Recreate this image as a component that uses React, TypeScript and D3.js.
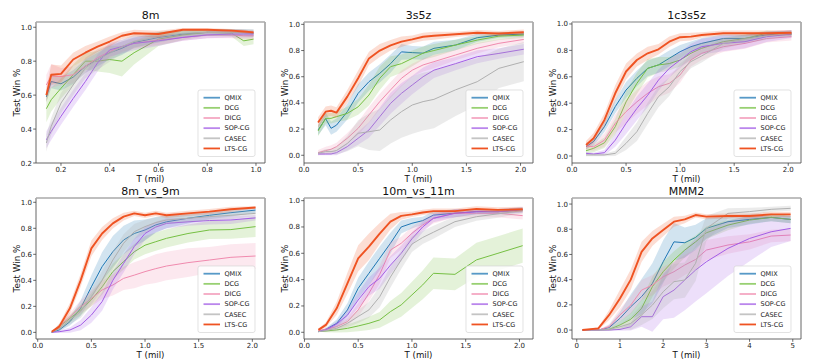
import React from "react";
import * as d3 from "d3";

const SERIES = ["QMIX", "DCG", "DICG", "SOP-CG", "CASEC", "LTS-CG"];
const COLORS = ["#1f77b4", "#76c043", "#f08aae", "#a35de6", "#b0b0b0", "#ef5322"];
const TITLES = ["8m", "3s5z", "1c3s5z", "8m_vs_9m", "10m_vs_11m", "MMM2"];

// ---- 8m ----
const T_8M = [0.14, 0.16, 0.2, 0.25, 0.3, 0.35, 0.4, 0.45, 0.5, 0.6, 0.7, 0.8, 0.9, 0.95, 0.99];
const MEAN_8M = [
  [0.59, 0.68, 0.667, 0.706, 0.77, 0.81, 0.85, 0.876, 0.91, 0.94, 0.96, 0.97, 0.97, 0.968, 0.965],
  [0.52, 0.573, 0.64, 0.72, 0.8, 0.8, 0.81, 0.8, 0.85, 0.93, 0.955, 0.97, 0.965, 0.92, 0.93],
  [0.66, 0.713, 0.71, 0.72, 0.77, 0.82, 0.857, 0.886, 0.905, 0.925, 0.94, 0.955, 0.955, 0.95, 0.95],
  [0.337, 0.386, 0.475, 0.58, 0.68, 0.79, 0.867, 0.886, 0.905, 0.92, 0.94, 0.955, 0.96, 0.96, 0.96],
  [0.318, 0.416, 0.553, 0.66, 0.76, 0.81, 0.847, 0.886, 0.916, 0.945, 0.965, 0.97, 0.97, 0.97, 0.97],
  [0.6, 0.72, 0.725, 0.81, 0.85, 0.886, 0.916, 0.95, 0.965, 0.96, 0.985, 0.985, 0.98, 0.975, 0.97],
];
const BAND_8M = [
  [0.03, 0.04, 0.04, 0.04, 0.04, 0.04, 0.04, 0.04, 0.03, 0.03, 0.02, 0.02, 0.02, 0.02, 0.02],
  [0.08, 0.07, 0.06, 0.06, 0.05, 0.06, 0.08, 0.09, 0.07, 0.04, 0.03, 0.02, 0.02, 0.03, 0.03],
  [0.06, 0.07, 0.05, 0.05, 0.04, 0.04, 0.04, 0.03, 0.03, 0.03, 0.02, 0.02, 0.02, 0.02, 0.02],
  [0.05, 0.05, 0.05, 0.05, 0.05, 0.05, 0.04, 0.04, 0.04, 0.03, 0.02, 0.02, 0.02, 0.02, 0.02],
  [0.05, 0.05, 0.06, 0.06, 0.06, 0.06, 0.05, 0.04, 0.04, 0.03, 0.02, 0.02, 0.02, 0.02, 0.02],
  [0.04, 0.06, 0.05, 0.04, 0.04, 0.03, 0.03, 0.02, 0.02, 0.02, 0.01, 0.01, 0.01, 0.01, 0.01],
];

// ---- 3s5z ----
const T_3S5Z = [0.13, 0.2, 0.25, 0.3, 0.4, 0.5, 0.6, 0.7, 0.8, 0.9, 1.0, 1.1, 1.2, 1.4, 1.6, 1.8, 2.03];
const MEAN_3S5Z = [
  [0.193, 0.28, 0.206, 0.23, 0.333, 0.473, 0.562, 0.626, 0.7, 0.79, 0.784, 0.78, 0.817, 0.842, 0.898, 0.918, 0.926],
  [0.186, 0.282, 0.282, 0.295, 0.32, 0.37, 0.46, 0.588, 0.677, 0.7, 0.74, 0.78, 0.8, 0.842, 0.88, 0.91, 0.918],
  [0.02, 0.036, 0.046, 0.066, 0.13, 0.206, 0.308, 0.41, 0.5, 0.588, 0.65, 0.69, 0.715, 0.766, 0.817, 0.855, 0.885],
  [0.01, 0.01, 0.01, 0.02, 0.066, 0.13, 0.193, 0.295, 0.397, 0.473, 0.537, 0.6, 0.65, 0.7, 0.753, 0.778, 0.81],
  [0.015, 0.028, 0.028, 0.036, 0.09, 0.168, 0.18, 0.193, 0.27, 0.333, 0.384, 0.41, 0.427, 0.5, 0.562, 0.664, 0.715],
  [0.25, 0.333, 0.34, 0.326, 0.448, 0.588, 0.74, 0.8, 0.84, 0.868, 0.885, 0.905, 0.913, 0.924, 0.936, 0.93, 0.94],
];
const BAND_3S5Z = [
  [0.04, 0.05, 0.05, 0.05, 0.06, 0.07, 0.07, 0.07, 0.07, 0.06, 0.05, 0.05, 0.05, 0.04, 0.03, 0.02, 0.02],
  [0.04, 0.04, 0.04, 0.04, 0.05, 0.06, 0.08, 0.09, 0.08, 0.07, 0.06, 0.05, 0.05, 0.04, 0.03, 0.03, 0.02],
  [0.02, 0.03, 0.03, 0.03, 0.04, 0.05, 0.06, 0.06, 0.06, 0.06, 0.05, 0.05, 0.05, 0.04, 0.04, 0.03, 0.03],
  [0.01, 0.01, 0.01, 0.02, 0.03, 0.05, 0.06, 0.07, 0.08, 0.08, 0.07, 0.07, 0.06, 0.05, 0.05, 0.04, 0.04],
  [0.01, 0.02, 0.02, 0.03, 0.06, 0.1, 0.14, 0.16, 0.18, 0.2, 0.22, 0.22, 0.22, 0.2, 0.18, 0.15, 0.15],
  [0.04, 0.04, 0.04, 0.04, 0.05, 0.06, 0.05, 0.05, 0.04, 0.04, 0.03, 0.03, 0.03, 0.02, 0.02, 0.02, 0.02],
];

// ---- 1c3s5z ----
const T_1C3S5Z = [0.13, 0.2, 0.3, 0.4, 0.5, 0.6, 0.7, 0.8, 0.9, 1.0, 1.1, 1.2, 1.4, 1.6, 1.8, 2.03];
const MEAN_1C3S5Z = [
  [0.07, 0.11, 0.222, 0.374, 0.5, 0.588, 0.664, 0.69, 0.74, 0.79, 0.828, 0.853, 0.89, 0.89, 0.917, 0.93],
  [0.04, 0.058, 0.1, 0.222, 0.41, 0.55, 0.664, 0.69, 0.7, 0.727, 0.778, 0.816, 0.866, 0.89, 0.93, 0.92],
  [0.076, 0.07, 0.12, 0.247, 0.336, 0.41, 0.475, 0.525, 0.55, 0.614, 0.727, 0.778, 0.828, 0.853, 0.89, 0.904],
  [0.02, 0.015, 0.025, 0.12, 0.247, 0.36, 0.46, 0.575, 0.664, 0.727, 0.79, 0.828, 0.853, 0.866, 0.904, 0.924],
  [0.008, 0.008, 0.008, 0.02, 0.096, 0.184, 0.323, 0.45, 0.525, 0.64, 0.715, 0.758, 0.853, 0.884, 0.91, 0.93],
  [0.083, 0.134, 0.273, 0.475, 0.64, 0.727, 0.778, 0.808, 0.866, 0.9, 0.904, 0.917, 0.93, 0.93, 0.93, 0.934],
];
const BAND_1C3S5Z = [
  [0.02, 0.03, 0.04, 0.05, 0.06, 0.06, 0.06, 0.06, 0.06, 0.05, 0.04, 0.04, 0.03, 0.03, 0.02, 0.02],
  [0.02, 0.03, 0.04, 0.06, 0.08, 0.08, 0.07, 0.06, 0.05, 0.05, 0.05, 0.04, 0.03, 0.03, 0.02, 0.02],
  [0.03, 0.03, 0.05, 0.07, 0.09, 0.09, 0.09, 0.08, 0.07, 0.06, 0.05, 0.05, 0.04, 0.04, 0.03, 0.03],
  [0.01, 0.01, 0.02, 0.05, 0.08, 0.09, 0.09, 0.08, 0.07, 0.06, 0.06, 0.06, 0.06, 0.05, 0.04, 0.03],
  [0.01, 0.01, 0.01, 0.02, 0.05, 0.07, 0.08, 0.08, 0.07, 0.06, 0.05, 0.05, 0.04, 0.03, 0.03, 0.02],
  [0.03, 0.04, 0.05, 0.06, 0.06, 0.05, 0.05, 0.04, 0.04, 0.03, 0.03, 0.02, 0.02, 0.02, 0.02, 0.02],
];

// ---- 8m_vs_9m ----
const T_8MVS9M = [0.13, 0.2, 0.3, 0.4, 0.5, 0.6, 0.7, 0.8, 0.9, 1.0, 1.1, 1.2, 1.4, 1.6, 1.8, 2.03];
const MEAN_8MVS9M = [
  [0.0, 0.018, 0.082, 0.185, 0.35, 0.505, 0.62, 0.71, 0.76, 0.787, 0.826, 0.85, 0.877, 0.9, 0.92, 0.94],
  [0.0, 0.044, 0.108, 0.172, 0.25, 0.35, 0.467, 0.544, 0.62, 0.67, 0.697, 0.723, 0.76, 0.787, 0.79, 0.813],
  [0.005, 0.044, 0.12, 0.197, 0.26, 0.326, 0.364, 0.415, 0.44, 0.467, 0.49, 0.51, 0.536, 0.556, 0.577, 0.587],
  [0.0, 0.005, 0.018, 0.056, 0.133, 0.236, 0.4, 0.53, 0.66, 0.76, 0.81, 0.838, 0.85, 0.86, 0.864, 0.88],
  [0.0, 0.03, 0.095, 0.16, 0.274, 0.4, 0.556, 0.685, 0.774, 0.813, 0.844, 0.864, 0.877, 0.89, 0.9, 0.915],
  [0.005, 0.044, 0.185, 0.4, 0.646, 0.76, 0.838, 0.89, 0.915, 0.9, 0.915, 0.9, 0.915, 0.928, 0.946, 0.96],
];
const BAND_8MVS9M = [
  [0.0, 0.01, 0.03, 0.06, 0.09, 0.11, 0.12, 0.11, 0.1, 0.08, 0.06, 0.05, 0.04, 0.03, 0.03, 0.02],
  [0.0, 0.02, 0.03, 0.04, 0.05, 0.06, 0.06, 0.06, 0.06, 0.07, 0.07, 0.07, 0.07, 0.07, 0.07, 0.08],
  [0.0, 0.02, 0.03, 0.05, 0.06, 0.07, 0.08, 0.09, 0.1, 0.1, 0.11, 0.11, 0.11, 0.1, 0.1, 0.1],
  [0.0, 0.01, 0.02, 0.04, 0.06, 0.07, 0.07, 0.07, 0.06, 0.05, 0.04, 0.04, 0.03, 0.03, 0.03, 0.02],
  [0.0, 0.02, 0.03, 0.05, 0.06, 0.07, 0.07, 0.07, 0.06, 0.05, 0.04, 0.03, 0.03, 0.03, 0.03, 0.02],
  [0.0, 0.02, 0.04, 0.05, 0.06, 0.05, 0.04, 0.03, 0.02, 0.02, 0.02, 0.02, 0.02, 0.02, 0.02, 0.01],
];

// ---- 10m_vs_11m ----
const T_10MVS11M = [0.13, 0.2, 0.3, 0.4, 0.5, 0.6, 0.7, 0.8, 0.9, 1.0, 1.1, 1.2, 1.4, 1.6, 1.8, 2.03];
const MEAN_10MVS11M = [
  [0.005, 0.023, 0.068, 0.17, 0.334, 0.448, 0.562, 0.676, 0.8, 0.828, 0.848, 0.89, 0.904, 0.916, 0.916, 0.93],
  [0.005, 0.01, 0.018, 0.03, 0.048, 0.068, 0.094, 0.157, 0.208, 0.284, 0.36, 0.448, 0.44, 0.55, 0.6, 0.658],
  [0.013, 0.023, 0.043, 0.081, 0.17, 0.296, 0.44, 0.625, 0.676, 0.752, 0.815, 0.866, 0.904, 0.904, 0.904, 0.886],
  [0.005, 0.018, 0.063, 0.13, 0.245, 0.347, 0.41, 0.51, 0.6, 0.71, 0.8, 0.866, 0.904, 0.916, 0.916, 0.93],
  [0.005, 0.013, 0.03, 0.068, 0.12, 0.17, 0.27, 0.42, 0.55, 0.67, 0.72, 0.76, 0.84, 0.878, 0.9, 0.924],
  [0.018, 0.056, 0.182, 0.372, 0.562, 0.65, 0.75, 0.84, 0.884, 0.896, 0.91, 0.92, 0.92, 0.937, 0.93, 0.934],
];
const BAND_10MVS11M = [
  [0.0, 0.01, 0.03, 0.05, 0.08, 0.09, 0.09, 0.08, 0.05, 0.04, 0.03, 0.03, 0.03, 0.02, 0.02, 0.02],
  [0.0, 0.01, 0.02, 0.03, 0.04, 0.05, 0.06, 0.08, 0.09, 0.1, 0.11, 0.12, 0.12, 0.13, 0.13, 0.13],
  [0.0, 0.01, 0.02, 0.03, 0.05, 0.06, 0.07, 0.06, 0.05, 0.05, 0.04, 0.04, 0.03, 0.03, 0.03, 0.03],
  [0.0, 0.01, 0.02, 0.04, 0.06, 0.07, 0.08, 0.07, 0.06, 0.05, 0.04, 0.03, 0.03, 0.02, 0.02, 0.02],
  [0.0, 0.01, 0.02, 0.03, 0.05, 0.06, 0.08, 0.08, 0.07, 0.06, 0.05, 0.05, 0.04, 0.03, 0.03, 0.02],
  [0.01, 0.02, 0.05, 0.08, 0.1, 0.1, 0.08, 0.06, 0.03, 0.02, 0.02, 0.02, 0.02, 0.02, 0.02, 0.02],
];

// ---- MMM2 ----
const T_MMM2 = [0.13, 0.5, 0.75, 1.0, 1.25, 1.5, 1.75, 2.0, 2.25, 2.5, 2.75, 3.0, 3.5, 4.0, 4.5, 4.95];
const MEAN_MMM2 = [
  [0, 0, 0.02, 0.093, 0.185, 0.265, 0.37, 0.542, 0.7, 0.693, 0.735, 0.807, 0.86, 0.878, 0.894, 0.878],
  [0, 0, 0.005, 0.04, 0.085, 0.172, 0.344, 0.463, 0.556, 0.635, 0.7, 0.772, 0.833, 0.873, 0.894, 0.878],
  [0, 0, 0.026, 0.12, 0.198, 0.317, 0.357, 0.423, 0.463, 0.516, 0.56, 0.635, 0.675, 0.7, 0.746, 0.754],
  [0, 0, 0, 0.005, 0.026, 0.106, 0.106, 0.265, 0.317, 0.397, 0.476, 0.542, 0.648, 0.727, 0.78, 0.807],
  [0, 0, 0.005, 0.026, 0.053, 0.12, 0.198, 0.304, 0.384, 0.397, 0.53, 0.807, 0.926, 0.94, 0.958, 0.966],
  [0, 0.013, 0.12, 0.25, 0.4, 0.62, 0.727, 0.794, 0.86, 0.878, 0.913, 0.9, 0.905, 0.905, 0.918, 0.918],
];
const BAND_MMM2 = [
  [0, 0, 0.02, 0.05, 0.1, 0.14, 0.16, 0.17, 0.15, 0.12, 0.1, 0.08, 0.05, 0.04, 0.03, 0.03],
  [0, 0, 0.01, 0.03, 0.05, 0.07, 0.08, 0.08, 0.07, 0.06, 0.05, 0.05, 0.04, 0.03, 0.03, 0.03],
  [0, 0, 0.02, 0.05, 0.07, 0.08, 0.08, 0.08, 0.08, 0.08, 0.08, 0.08, 0.07, 0.06, 0.05, 0.05],
  [0, 0, 0, 0.01, 0.03, 0.08, 0.12, 0.18, 0.22, 0.24, 0.25, 0.25, 0.22, 0.18, 0.12, 0.1],
  [0, 0, 0.01, 0.02, 0.05, 0.08, 0.11, 0.13, 0.14, 0.14, 0.14, 0.1, 0.04, 0.03, 0.02, 0.02],
  [0, 0.01, 0.04, 0.07, 0.08, 0.08, 0.06, 0.05, 0.04, 0.03, 0.02, 0.02, 0.02, 0.02, 0.02, 0.02],
];

const XTICKS_8M = [0.2, 0.4, 0.6, 0.8, 1.0];
const XTICKS_2 = [0, 0.5, 1, 1.5, 2];
const XTICKS_MMM2 = [0, 1, 2, 3, 4, 5];
const YTICKS_8M = [0.2, 0.4, 0.6, 0.8, 1.0];
const YTICKS = [0, 0.2, 0.4, 0.6, 0.8, 1.0];

const T_ALL = [T_8M, T_3S5Z, T_1C3S5Z, T_8MVS9M, T_10MVS11M, T_MMM2];
const MEAN_ALL = [MEAN_8M, MEAN_3S5Z, MEAN_1C3S5Z, MEAN_8MVS9M, MEAN_10MVS11M, MEAN_MMM2];
const BAND_ALL = [BAND_8M, BAND_3S5Z, BAND_1C3S5Z, BAND_8MVS9M, BAND_10MVS11M, BAND_MMM2];
const XTICK_ALL = [XTICKS_8M, XTICKS_2, XTICKS_2, XTICKS_2, XTICKS_2, XTICKS_MMM2];
const YTICK_ALL = [YTICKS_8M, YTICKS, YTICKS, YTICKS, YTICKS, YTICKS];

// layout
const LEFTS = [36, 304, 572];
const TOPS = [22, 198];
const PW = 229;
const PH = 141;
const XDOM = [
  [0.0975, 1.037],
  [0.0, 2.115],
  [0.0, 2.118],
  [-0.016, 2.118],
  [-0.004, 2.126],
  [-0.11, 5.19],
];
const YDOM = [
  [0.2, 1.031],
  [-0.059, 1.018],
  [-0.053, 1.015],
  [-0.051, 1.033],
  [-0.051, 1.02],
  [-0.071, 1.048],
];

const FONT = "DejaVu Sans, sans-serif";

function Panel({ idx }: { idx: number }) {
  const left = LEFTS[idx % 3];
  const top = TOPS[Math.floor(idx / 3)];
  const right = left + PW;
  const bottom = top + PH;
  const t = T_ALL[idx];
  const means = MEAN_ALL[idx];
  const bands = BAND_ALL[idx];
  const x = d3.scaleLinear().domain(XDOM[idx]).range([left, right]);
  const y = d3.scaleLinear().domain(YDOM[idx]).range([bottom, top]);
  const fmtX = idx === 5 ? d3.format("d") : d3.format(".1f");
  const fmtY = d3.format(".1f");
  const clipId = `clip${idx}`;

  const line = d3
    .line<number>()
    .x((_, i) => x(t[i]))
    .y((d) => y(d));

  const legW = 57;
  const legH = 66.5;
  const legX = right - 10 - legW;
  const legY = bottom - 6.5 - legH;

  return (
    <g>
      <defs>
        <clipPath id={clipId}>
          <rect x={left} y={top} width={PW} height={PH} />
        </clipPath>
      </defs>
      <g clipPath={`url(#${clipId})`}>
        {SERIES.map((s, si) => {
          const m = means[si];
          const b = bands[si];
          const a = d3
            .area<number>()
            .x((_, i) => x(t[i]))
            .y0((d, i) => y(d - b[i]))
            .y1((d, i) => y(d + b[i]));
          return (
            <g key={s}>
              <path d={a(m) || ""} fill={COLORS[si]} fillOpacity={si === 4 ? 0.25 : 0.2} stroke="none" />
              <path
                d={line(m) || ""}
                fill="none"
                stroke={COLORS[si]}
                strokeWidth={si === 5 ? 1.9 : 1.0}
                strokeLinejoin="round"
              />
            </g>
          );
        })}
      </g>
      {/* spines */}
      <line x1={left} x2={left} y1={top} y2={bottom} stroke="#555" strokeWidth={0.9} />
      <line x1={right} x2={right} y1={top} y2={bottom} stroke="#555" strokeWidth={0.9} />
      <line x1={left} x2={right} y1={bottom} y2={bottom} stroke="#555" strokeWidth={0.9} />
      <line x1={left} x2={right} y1={top} y2={top} stroke="#aaa" strokeWidth={1.6} />
      {/* x ticks */}
      {XTICK_ALL[idx].map((v) => (
        <g key={`x${v}`}>
          <line x1={x(v)} x2={x(v)} y1={bottom} y2={bottom + 2.8} stroke="#444" strokeWidth={0.8} />
          <text x={x(v)} y={bottom + 8.8} fontSize={7} textAnchor="middle" fill="#222" fontFamily={FONT}>
            {fmtX(v)}
          </text>
        </g>
      ))}
      {/* y ticks */}
      {YTICK_ALL[idx].map((v) => (
        <g key={`y${v}`}>
          <line x1={left - 2.8} x2={left} y1={y(v)} y2={y(v)} stroke="#444" strokeWidth={0.8} />
          <text x={left - 4} y={y(v) + 2.5} fontSize={7} textAnchor="end" fill="#222" fontFamily={FONT}>
            {fmtY(v)}
          </text>
        </g>
      ))}
      {/* labels */}
      <text x={(left + right) / 2} y={top - 3.5} fontSize={11} textAnchor="middle" fill="#111" fontFamily={FONT}>
        {TITLES[idx]}
      </text>
      <text x={(left + right) / 2} y={bottom + 18.5} fontSize={8.6} textAnchor="middle" fill="#111" fontFamily={FONT}>
        T (mil)
      </text>
      <text
        transform={`translate(${left - 16.5},${(top + bottom) / 2}) rotate(-90)`}
        fontSize={8.8}
        textAnchor="middle"
        fill="#111"
        fontFamily={FONT}
      >
        Test Win %
      </text>
      {/* legend */}
      <rect x={legX} y={legY} width={legW} height={legH} rx={2} fill="#fff" fillOpacity={0.85} stroke="#d5d5d5" strokeWidth={0.7} />
      {SERIES.map((s, si) => {
        const cy = legY + 7.7 + si * 10.15;
        return (
          <g key={`l${s}`}>
            <line
              x1={legX + 5.5}
              x2={legX + 22}
              y1={cy}
              y2={cy}
              stroke={COLORS[si]}
              strokeWidth={1.8}
              strokeOpacity={si === 5 ? 1 : 0.75}
            />
            <text x={legX + 26.5} y={cy + 2.3} fontSize={6.5} fill="#222" fontFamily={FONT}>
              {s}
            </text>
          </g>
        );
      })}
    </g>
  );
}

export default function App() {
  return (
    <svg
      width={830}
      height={361}
      viewBox="0 0 830 361"
      style={{ position: "absolute", left: 0, top: 0, background: "#fff" }}
    >
      <rect x={0} y={0} width={830} height={361} fill="#fff" />
      {[0, 1, 2, 3, 4, 5].map((i) => (
        <Panel key={i} idx={i} />
      ))}
    </svg>
  );
}
